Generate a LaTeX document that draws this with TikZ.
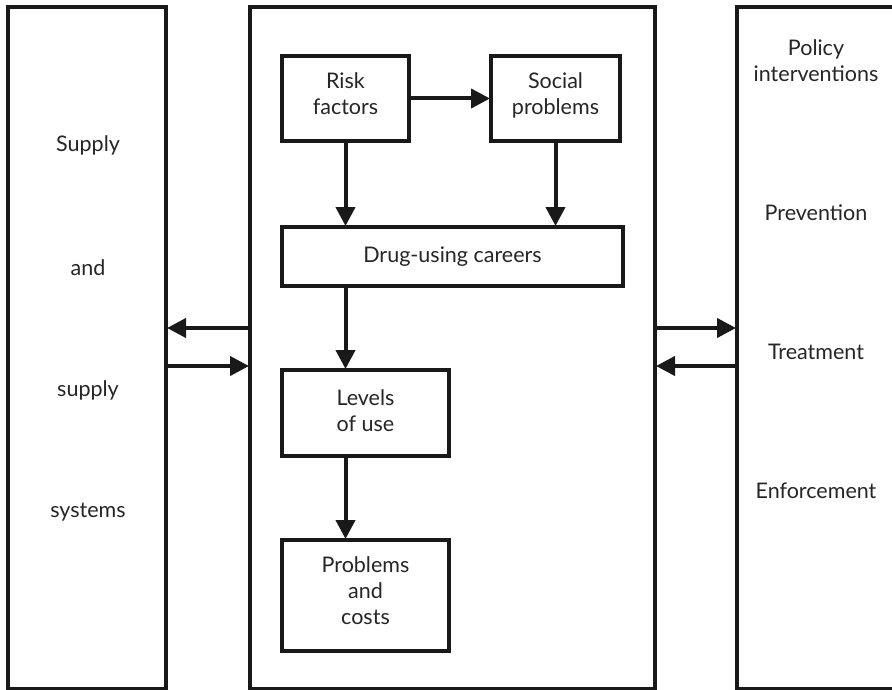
\documentclass[tikz,border=0pt]{standalone}
\usepackage{fontspec}
\setmainfont{Lato}
\usetikzlibrary{arrows.meta}
\begin{document}
\begin{tikzpicture}[x=1pt,y=-1pt,
  panel/.style={draw=black!90,line width=4pt},
  inbox/.style={draw=black!90,line width=4pt,align=center,inner sep=0pt,font=\fontsize{21.5}{26}\selectfont,text=black!85},
  lbl/.style={align=center,font=\fontsize{21.5}{26}\selectfont,text=black!85},
  arr/.style={line width=4pt,draw=black!90,-{Triangle[length=19pt,width=19pt]},shorten >=-1pt}]
\useasboundingbox (0,0) rectangle (892,690);
\clip (0,0) rectangle (892,690);
\fill[white] (0,0) rectangle (892,690);
% panels
\node[panel,minimum width=158pt,minimum height=682pt,inner sep=0pt] (L) at (87,348) {};
\node[panel,minimum width=405pt,minimum height=682pt,inner sep=0pt] (M) at (452.5,348) {};
\node[panel,minimum width=160pt,minimum height=682pt,inner sep=0pt] (R) at (817,348) {};
% inner boxes
\node[inbox,minimum width=127pt,minimum height=85pt,text depth=10pt] (risk) at (345.5,98.5) {Risk\\factors};
\node[inbox,minimum width=129pt,minimum height=85pt,text depth=10pt] (soc) at (555.5,98.5) {Social\\problems};
\node[inbox,minimum width=341pt,minimum height=59pt] (drug) at (452.5,256.5) {Drug-using careers};
\node[inbox,minimum width=167pt,minimum height=86pt,text depth=5pt] (lev) at (365.5,413) {Levels\\of use};
\node[inbox,minimum width=167pt,minimum height=111pt,text depth=10pt] (prob) at (365.5,595.5) {Problems\\and\\costs};
% labels
\node[lbl] (t1) at (88,145) {Supply};
\node[lbl] (t2) at (88,268) {and};
\node[lbl] (t3) at (88,390) {supply};
\node[lbl] (t4) at (88,512) {systems};
\node[lbl] (r1) at (816,61) {Policy\\interventions};
\node[lbl] (r2) at (816,213) {Prevention};
\node[lbl] (r3) at (816,352) {Treatment};
\node[lbl] (r4) at (816,491) {Enforcement};
% arrows inside
\draw[arr] (risk.east) -- (soc.west);
\draw[arr] (risk.south) -- (risk.south |- drug.north);
\draw[arr] (soc.south) -- (soc.south |- drug.north);
\draw[arr] (risk.south |- drug.south) -- (risk.south |- lev.north);
\draw[arr] (risk.south |- lev.south) -- (risk.south |- prob.north);
% side arrows
\coordinate (a1) at (0,328);
\coordinate (a2) at (0,366);
\draw[arr] (M.west |- a1) -- (L.east |- a1);
\draw[arr] (L.east |- a2) -- (M.west |- a2);
\draw[arr] (M.east |- a1) -- (R.west |- a1);
\draw[arr] (R.west |- a2) -- (M.east |- a2);
\end{tikzpicture}
\end{document}
